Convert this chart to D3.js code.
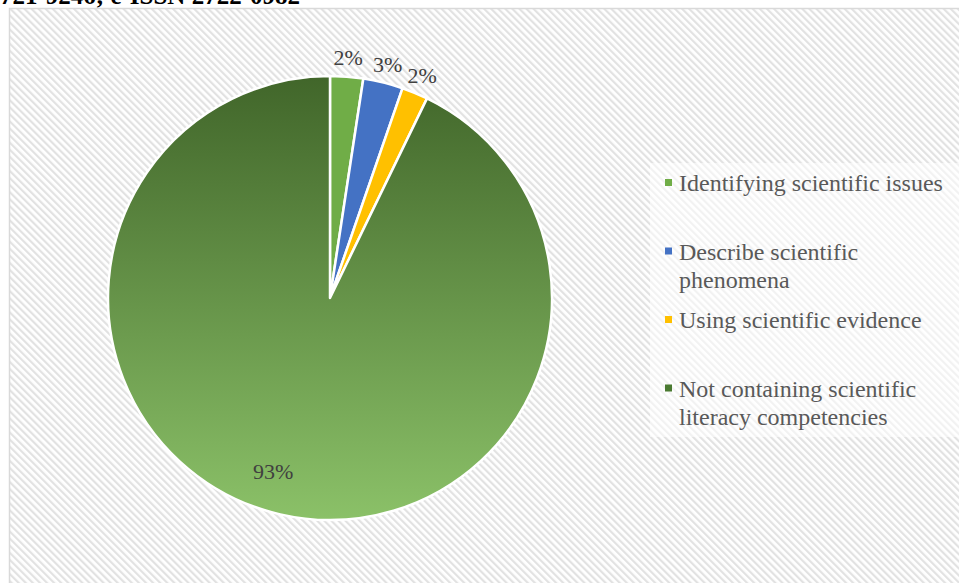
<!DOCTYPE html>
<html>
<head>
<meta charset="utf-8">
<script src="https://cdn.jsdelivr.net/npm/d3@7"></script>
<style>
  body { margin: 0; background: #fff; }
  svg text { font-family: "Liberation Serif", "DejaVu Serif", "Times New Roman", serif; }
</style>
</head>
<body>
<svg id="chart"></svg>
<script>
let categories = [
    "Identifying scientific issues",
    "Describe scientific phenomena",
    "Using scientific evidence",
    "Not containing scientific literacy competencies"
];
let values = [2.4, 2.9, 1.9, 92.8];
let valueLabels = ["2%", "3%", "2%", "93%"];
let colors = ["#70AD47", "#4472C4", "#FFC000", "url(#bigGrad)"];
let legendColors = ["#70AD47", "#4472C4", "#FFC000", "#4A7A31"];

const SERIF = "'Liberation Serif', 'DejaVu Serif', 'Times New Roman', serif";

function createPie() {
    let w = 959, h = 583;
    let svg = d3.select("#chart").attr("width", w).attr("height", h);
    let defs = svg.append("defs");

    // hatched background pattern (downward diagonal)
    let pat = defs.append("pattern")
        .attr("id", "hatch")
        .attr("patternUnits", "userSpaceOnUse")
        .attr("width", 5).attr("height", 5)
        .attr("patternTransform", "rotate(-45)");
    pat.append("rect").attr("width", 5).attr("height", 5).attr("fill", "#fff");
    pat.append("rect").attr("width", 2.2).attr("height", 5).attr("fill", "#e2e2e2");

    // header text cut off at top
    svg.append("text")
        .attr("x", 300).attr("y", 4)
        .attr("text-anchor", "end")
        .attr("font-family", SERIF)
        .style("font-weight", "bold")
        .style("font-size", "25px")
        .attr("fill", "#000")
        .text("p-ISSN 2721-9246; e-ISSN 2722-0982");

    svg.append("rect")
        .attr("x", 9.5).attr("y", 8.5)
        .attr("width", w).attr("height", h)
        .attr("fill", "url(#hatch)")
        .attr("stroke", "#d9d9d9")
        .attr("stroke-width", 1.5);

    let cx = 330, cy = 298, r = 222;

    let grad = defs.append("linearGradient")
        .attr("id", "bigGrad")
        .attr("gradientUnits", "userSpaceOnUse")
        .attr("x1", 0).attr("x2", 0)
        .attr("y1", -r).attr("y2", r);
    grad.append("stop").attr("offset", "0%").attr("stop-color", "#41662A");
    grad.append("stop").attr("offset", "100%").attr("stop-color", "#8BC168");

    let pie = d3.pie().sort(null).value(d => d)(values);
    let arc = d3.arc().innerRadius(0).outerRadius(r);
    let labelArc = d3.arc().innerRadius(241).outerRadius(241);
    let bigArc = d3.arc().innerRadius(178).outerRadius(178);

    let g = svg.append("g").attr("transform", `translate(${cx},${cy})`);

    g.selectAll("path.slice")
        .data(pie)
        .enter()
        .append("path")
        .attr("class", "slice")
        .attr("d", arc)
        .attr("fill", (d, i) => colors[i])
        .attr("stroke", "#fff")
        .attr("stroke-width", 2.5)
        .attr("stroke-linejoin", "round");

    g.selectAll("text.lbl")
        .data(pie)
        .enter()
        .append("text")
        .attr("class", "lbl")
        .attr("transform", (d, i) => {
            let c = (i === 3 ? bigArc : labelArc).centroid(d);
            return `translate(${c[0] - (i === 3 ? 17 : 0)},${c[1]})`;
        })
        .attr("text-anchor", "middle")
        .attr("dy", "0.35em")
        .attr("font-family", SERIF)
        .style("font-size", "22px")
        .attr("fill", "#404040")
        .text((d, i) => valueLabels[i]);

    // legend
    let lx = 665, ly = 183, step = 68.5, lineH = 28, maxW = 275;
    svg.append("rect")
        .attr("x", 650).attr("y", 163)
        .attr("width", 309).attr("height", 274)
        .attr("fill", "#fff").attr("opacity", 0.55);

    let items = svg.selectAll("g.leg")
        .data(categories)
        .enter()
        .append("g")
        .attr("class", "leg")
        .attr("transform", (d, i) => `translate(${lx},${ly + i * step})`);

    items.append("rect")
        .attr("x", 0).attr("y", -4)
        .attr("width", 7).attr("height", 7)
        .attr("fill", (d, i) => legendColors[i]);

    items.each(function(d) {
        let t = d3.select(this).append("text")
            .attr("font-family", SERIF)
            .style("font-size", "24px")
            .attr("fill", "#595959");
        let words = d.split(" ");
        let line = [];
        let lineNo = 0;
        let tspan = t.append("tspan").attr("x", 14).attr("y", 0).attr("dy", "0.35em");
        words.forEach(word => {
            line.push(word);
            tspan.text(line.join(" "));
            if (tspan.node().getComputedTextLength() > maxW && line.length > 1) {
                line.pop();
                tspan.text(line.join(" "));
                line = [word];
                lineNo++;
                tspan = t.append("tspan").attr("x", 14).attr("y", lineNo * lineH)
                    .attr("dy", "0.35em").text(word);
            }
        });
    });
}

window.onload = function() {
    createPie();
}
</script>
</body>
</html>
